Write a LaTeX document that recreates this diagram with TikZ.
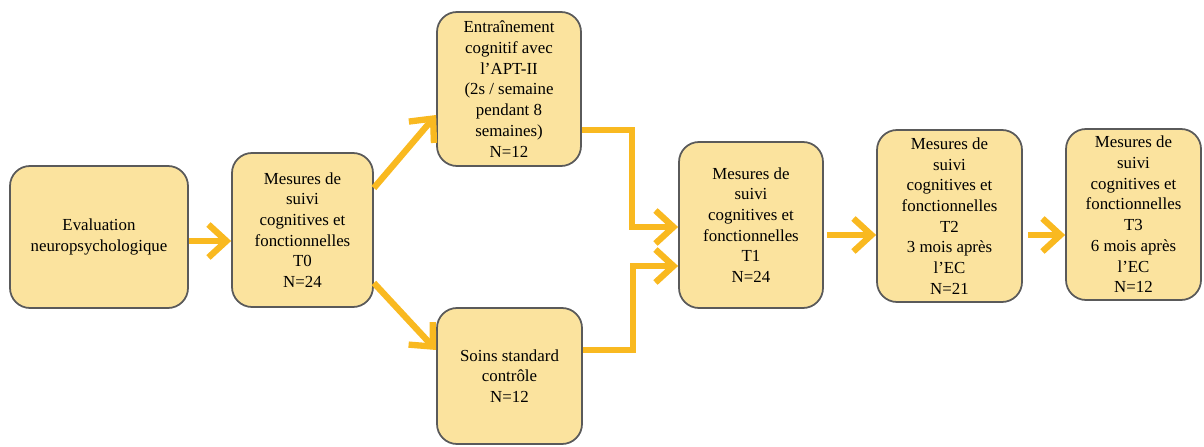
\documentclass[tikz,border=0pt]{standalone}
\usepackage{fontspec}
\setmainfont{Liberation Serif}
\usetikzlibrary{arrows.meta}
\definecolor{boxfill}{RGB}{251,227,158}
\definecolor{boxline}{RGB}{90,90,90}
\definecolor{arrowcol}{RGB}{249,185,32}
\begin{document}
\begin{tikzpicture}

    \tikzset{
      box/.style={
        draw=boxline,
        fill=boxfill,
        line width=1pt,
        rounded corners=0.4cm,
        align=center,
        inner sep=1pt,
        font=\fontsize{9.6}{11.8}\selectfont,
      },
      arr/.style={
        draw=arrowcol,
        line width=3.6pt,
        -{Straight Barb[length=0.36cm,width=0.66cm]},
      },
    }
    \useasboundingbox (0,0) rectangle (24.08,8.92);
	\node[box,minimum width=3.56cm,minimum height=2.84cm] (eval) at (1.98,4.18) {Evaluation\\neuropsychologique};
	\node[box,minimum width=2.82cm,minimum height=3.08cm] (t0) at (6.05,4.32) {Mesures de\\suivi\\cognitives et\\fonctionnelles\\T0\\N=24};
	\node[box,minimum width=2.88cm,minimum height=3.08cm] (apt) at (10.18,7.14) {Entraînement\\cognitif avec\\l’APT-II\\(2s / semaine\\pendant 8\\semaines)\\N=12};
	\node[box,minimum width=2.90cm,minimum height=2.72cm] (soins) at (10.19,1.40) {Soins standard\\contrôle\\N=12};
	\node[box,minimum width=2.88cm,minimum height=3.32cm] (t1) at (15.02,4.42) {Mesures de\\suivi\\cognitives et\\fonctionnelles\\T1\\N=24};
	\node[box,minimum width=2.90cm,minimum height=3.44cm] (t2) at (18.99,4.60) {Mesures de\\suivi\\cognitives et\\fonctionnelles\\T2\\3 mois après\\l’EC\\N=21};
	\node[box,minimum width=2.70cm,minimum height=3.42cm] (t3) at (22.67,4.63) {Mesures de\\suivi\\cognitives et\\fonctionnelles\\T3\\6 mois après\\l’EC\\N=12};

	\draw[arr] ([yshift=-0.08cm]eval.east) -- ([yshift=-0.08cm]eval.east -| t0.west);
	\draw[arr] ([yshift=0.84cm]t0.east) -- ([yshift=-0.52cm]apt.west);
	\draw[arr] ([yshift=-1.06cm]t0.east) -- ([yshift=0.52cm]soins.west);
	\draw[arr] ([yshift=-0.82cm]apt.east) -- ++(1.0,0) |- ([yshift=-0.04cm]t1.west);
	\draw[arr] ([yshift=0.52cm]soins.east) -- ++(1.0,0) |- ([yshift=-0.82cm]t1.west);
	\draw[arr] ([xshift=0.06cm,yshift=-0.2cm]t1.east) -- ([yshift=-0.2cm]t1.east -| t2.west);
	\draw[arr] ([xshift=0.1cm,yshift=-0.38cm]t2.east) -- ([yshift=-0.38cm]t2.east -| t3.west);

\end{tikzpicture}
\end{document}
